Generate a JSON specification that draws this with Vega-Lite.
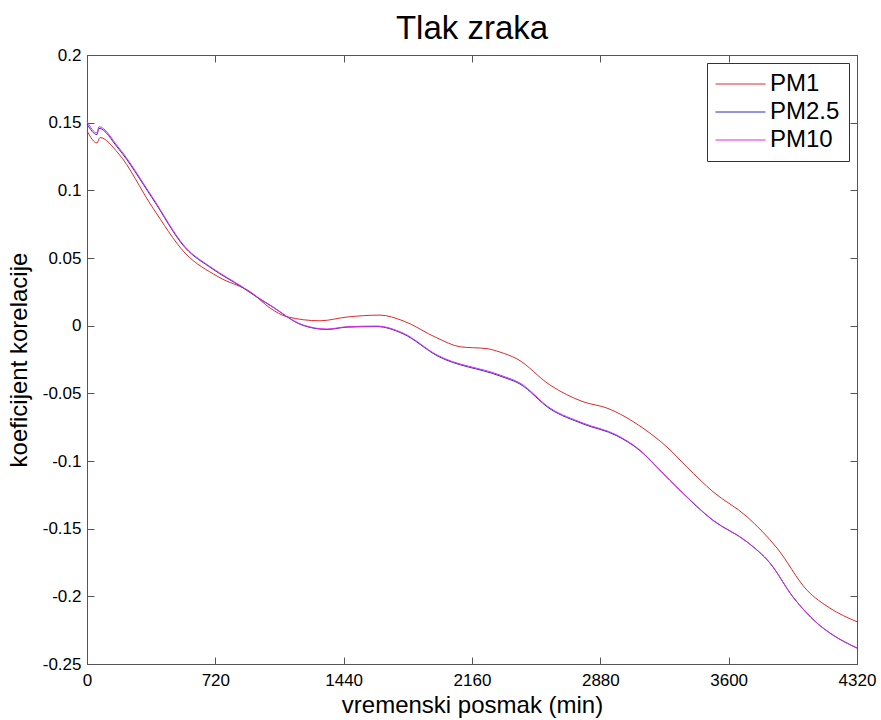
{
  "$schema": "https://vega.github.io/schema/vega-lite/v6.json",
  "width": 770,
  "height": 609,
  "autosize": "none",
  "padding": {"left": 87, "top": 55, "right": 24, "bottom": 56},
  "background": "white",
  "title": {"text": "Tlak zraka", "fontSize": 33, "font": "Liberation Sans", "fontWeight": "normal", "color": "black", "anchor": "middle", "offset": 0},
  "config": {
    "view": {"stroke": "#555", "strokeWidth": 1},
    "axis": {"grid": false, "domainColor": "#555", "tickColor": "#555", "labelFont": "Liberation Sans", "titleFont": "Liberation Sans", "labelColor": "black", "titleColor": "black", "titleFontWeight": "normal"}
  },
  "data": {"values": [
    {"s": "PM1", "t": 0, "v": 0.144},
    {"s": "PM1", "t": 56, "v": 0.135},
    {"s": "PM1", "t": 73, "v": 0.139},
    {"s": "PM1", "t": 174, "v": 0.1276},
    {"s": "PM1", "t": 365, "v": 0.0879},
    {"s": "PM1", "t": 550, "v": 0.0537},
    {"s": "PM1", "t": 735, "v": 0.0362},
    {"s": "PM1", "t": 926, "v": 0.0241},
    {"s": "PM1", "t": 1027, "v": 0.013},
    {"s": "PM1", "t": 1122, "v": 0.0066},
    {"s": "PM1", "t": 1307, "v": 0.0036},
    {"s": "PM1", "t": 1459, "v": 0.0064},
    {"s": "PM1", "t": 1644, "v": 0.0078},
    {"s": "PM1", "t": 1773, "v": 0.0036},
    {"s": "PM1", "t": 1964, "v": -0.0091},
    {"s": "PM1", "t": 2093, "v": -0.0156},
    {"s": "PM1", "t": 2244, "v": -0.017},
    {"s": "PM1", "t": 2317, "v": -0.0195},
    {"s": "PM1", "t": 2412, "v": -0.0245},
    {"s": "PM1", "t": 2598, "v": -0.0439},
    {"s": "PM1", "t": 2783, "v": -0.0562},
    {"s": "PM1", "t": 2917, "v": -0.0609},
    {"s": "PM1", "t": 3119, "v": -0.0757},
    {"s": "PM1", "t": 3254, "v": -0.0897},
    {"s": "PM1", "t": 3366, "v": -0.1045},
    {"s": "PM1", "t": 3512, "v": -0.1227},
    {"s": "PM1", "t": 3703, "v": -0.1412},
    {"s": "PM1", "t": 3871, "v": -0.1643},
    {"s": "PM1", "t": 4039, "v": -0.1954},
    {"s": "PM1", "t": 4168, "v": -0.2087},
    {"s": "PM1", "t": 4320, "v": -0.2188},
    {"s": "PM2.5", "t": 0, "v": 0.149},
    {"s": "PM2.5", "t": 56, "v": 0.1412},
    {"s": "PM2.5", "t": 67, "v": 0.1458},
    {"s": "PM2.5", "t": 174, "v": 0.1312},
    {"s": "PM2.5", "t": 365, "v": 0.0945},
    {"s": "PM2.5", "t": 550, "v": 0.0577},
    {"s": "PM2.5", "t": 702, "v": 0.0421},
    {"s": "PM2.5", "t": 870, "v": 0.0284},
    {"s": "PM2.5", "t": 982, "v": 0.0186},
    {"s": "PM2.5", "t": 1027, "v": 0.015},
    {"s": "PM2.5", "t": 1212, "v": 0.0002},
    {"s": "PM2.5", "t": 1347, "v": -0.0028},
    {"s": "PM2.5", "t": 1459, "v": -0.0011},
    {"s": "PM2.5", "t": 1627, "v": -0.0007},
    {"s": "PM2.5", "t": 1773, "v": -0.006},
    {"s": "PM2.5", "t": 1964, "v": -0.0222},
    {"s": "PM2.5", "t": 2317, "v": -0.0372},
    {"s": "PM2.5", "t": 2429, "v": -0.0431},
    {"s": "PM2.5", "t": 2598, "v": -0.0615},
    {"s": "PM2.5", "t": 2783, "v": -0.0726},
    {"s": "PM2.5", "t": 2973, "v": -0.0814},
    {"s": "PM2.5", "t": 3102, "v": -0.0923},
    {"s": "PM2.5", "t": 3215, "v": -0.107},
    {"s": "PM2.5", "t": 3327, "v": -0.1218},
    {"s": "PM2.5", "t": 3512, "v": -0.1439},
    {"s": "PM2.5", "t": 3703, "v": -0.1598},
    {"s": "PM2.5", "t": 3832, "v": -0.1755},
    {"s": "PM2.5", "t": 3961, "v": -0.2005},
    {"s": "PM2.5", "t": 4095, "v": -0.2197},
    {"s": "PM2.5", "t": 4185, "v": -0.2286},
    {"s": "PM2.5", "t": 4320, "v": -0.2382},
    {"s": "PM10", "t": 0, "v": 0.151},
    {"s": "PM10", "t": 56, "v": 0.1424},
    {"s": "PM10", "t": 67, "v": 0.147},
    {"s": "PM10", "t": 174, "v": 0.1322},
    {"s": "PM10", "t": 365, "v": 0.0953},
    {"s": "PM10", "t": 550, "v": 0.0583},
    {"s": "PM10", "t": 702, "v": 0.0426},
    {"s": "PM10", "t": 870, "v": 0.0288},
    {"s": "PM10", "t": 982, "v": 0.0189},
    {"s": "PM10", "t": 1027, "v": 0.0152},
    {"s": "PM10", "t": 1212, "v": 0.0005},
    {"s": "PM10", "t": 1347, "v": -0.0025},
    {"s": "PM10", "t": 1459, "v": -0.0008},
    {"s": "PM10", "t": 1627, "v": -0.0003},
    {"s": "PM10", "t": 1773, "v": -0.0055},
    {"s": "PM10", "t": 1964, "v": -0.0217},
    {"s": "PM10", "t": 2317, "v": -0.0365},
    {"s": "PM10", "t": 2429, "v": -0.0424},
    {"s": "PM10", "t": 2598, "v": -0.0609},
    {"s": "PM10", "t": 2783, "v": -0.072},
    {"s": "PM10", "t": 2973, "v": -0.0809},
    {"s": "PM10", "t": 3102, "v": -0.0919},
    {"s": "PM10", "t": 3215, "v": -0.1067},
    {"s": "PM10", "t": 3327, "v": -0.1215},
    {"s": "PM10", "t": 3512, "v": -0.1437},
    {"s": "PM10", "t": 3703, "v": -0.1597},
    {"s": "PM10", "t": 3832, "v": -0.1754},
    {"s": "PM10", "t": 3961, "v": -0.2005},
    {"s": "PM10", "t": 4095, "v": -0.2197},
    {"s": "PM10", "t": 4185, "v": -0.2286},
    {"s": "PM10", "t": 4320, "v": -0.2382}
  ]},
  "layer": [
    {
      "mark": {"type": "line", "strokeWidth": 1, "interpolate": "monotone"},
      "encoding": {
        "x": {"field": "t", "type": "quantitative", "scale": {"domain": [0, 4320], "nice": false, "zero": false},
          "axis": {"values": [0, 720, 1440, 2160, 2880, 3600, 4320], "labelExpr": "datum.value + ''", "title": "vremenski posmak (min)", "titleFontSize": 24, "labelFontSize": 17, "tickSize": -7, "labelPadding": 15, "titlePadding": 5, "labelFlush": false, "domain": true}},
        "y": {"field": "v", "type": "quantitative", "scale": {"domain": [-0.25, 0.2], "nice": false, "zero": false},
          "axis": {"values": [-0.25, -0.2, -0.15, -0.1, -0.05, 0, 0.05, 0.1, 0.15, 0.2], "labelExpr": "datum.value + ''", "title": "koeficijent korelacije", "titleFontSize": 24, "labelFontSize": 17, "tickSize": -7, "labelPadding": 13, "titlePadding": 11, "labelFlush": false}},
        "color": {"field": "s", "type": "nominal",
          "scale": {"domain": ["PM1", "PM2.5", "PM10"], "range": ["#dd2a2a", "#2a2ad0", "#dd2add"]},
          "sort": ["PM1", "PM2.5", "PM10"],
          "legend": {"orient": "none", "legendX": 620, "legendY": 8, "title": null, "symbolType": "M-5,0H15", "symbolSize": 25, "symbolStrokeWidth": 1, "labelFontSize": 24, "labelFont": "Liberation Sans", "labelColor": "black", "strokeColor": "#333", "fillColor": "white", "padding": 9, "rowPadding": 4, "labelOffset": 30, "offset": 0}},
        "order": {"field": "s"}
      }
    },
    {
      "mark": {"type": "line", "opacity": 0},
      "encoding": {
        "x": {"field": "t", "type": "quantitative", "axis": {"orient": "top", "values": [0, 720, 1440, 2160, 2880, 3600, 4320], "labels": false, "title": null, "tickSize": -7, "domain": false}},
        "y": {"field": "v", "type": "quantitative", "axis": {"orient": "right", "values": [-0.25, -0.2, -0.15, -0.1, -0.05, 0, 0.05, 0.1, 0.15, 0.2], "labels": false, "title": null, "tickSize": -7, "domain": false}},
        "detail": {"field": "s"}
      }
    }
  ],
  "resolve": {"axis": {"x": "independent", "y": "independent"}}
}
